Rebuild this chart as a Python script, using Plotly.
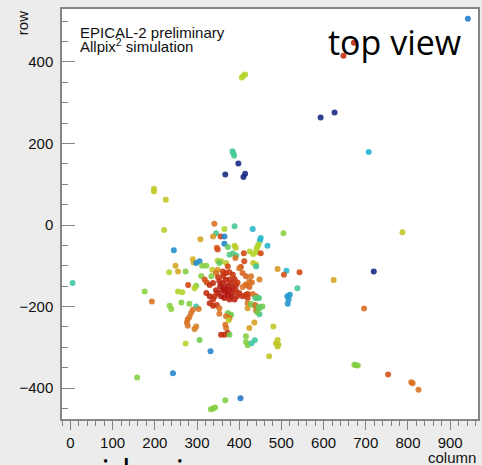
import plotly.graph_objects as go

# Isolated hits away from the shower core: column, row, normalised colour value
outer_col = [942, 672, 647, 406, 410, 414, 593, 626, 384, 386, 388, 398, 367, 410, 414,
             198, 198, 226, 707, 787, 719, 543, 624, 696, 673, 677, 681, 753, 808, 811,
             825, 5, 176, 193, 158, 243, 333, 338, 343, 367, 403]
outer_row = [506, 447, 415, 362, 366, 369, 264, 276, 181, 176, 170, 151, 124, 118, 126,
             82, 89, 62, 179, -18, -114, -116, -135, -205, -343, -344, -345, -367, -386, -388,
             -404, -142, -163, -188, -374, -364, -452, -450, -448, -430, -425]
outer_val = [0.16, 0.97, 0.95, 0.62, 0.62, 0.62, 0.02, 0.02, 0.42, 0.42, 0.42, 0.02, 0.02, 0.02, 0.02,
             0.66, 0.66, 0.66, 0.28, 0.66, 0.02, 0.90, 0.75, 0.83, 0.55, 0.55, 0.55, 0.88, 0.82, 0.82,
             0.82, 0.40, 0.56, 0.82, 0.55, 0.18, 0.55, 0.55, 0.55, 0.55, 0.15]

# Hits in the central shower
core_col = [341, 365, 389, 432, 222, 505, 345, 338, 356, 365, 308, 451, 449, 245, 365,
            373, 347, 349, 389, 392, 446, 443, 441, 467, 425, 433, 441, 451, 377, 385,
            393, 391, 411, 290, 292, 298, 306, 322, 312, 349, 357, 353, 369, 373, 433,
            440, 440, 412, 404, 400, 249, 255, 234, 273, 336, 349, 345, 361, 369, 377,
            408, 416, 491, 512, 506, 310, 334, 318, 323, 330, 338, 353, 361, 365, 373,
            381, 385, 393, 377, 389, 396, 416, 424, 430, 448, 428, 424, 416, 408, 255,
            265, 279, 298, 294, 538, 322, 330, 338, 349, 357, 365, 373, 381, 389, 377,
            400, 408, 416, 420, 432, 440, 444, 455, 436, 448, 420, 330, 338, 347, 353,
            298, 282, 235, 239, 263, 290, 286, 282, 304, 373, 381, 369, 377, 448, 440,
            298, 294, 278, 276, 278, 367, 369, 357, 365, 373, 377, 424, 436, 416, 416,
            420, 429, 437, 481, 487, 491, 493, 491, 471, 332, 273, 306, 514, 520, 517,
            515, 375, 353, 420, 443, 438, 447, 428, 438, 446, 420, 360, 368, 345, 385,
            392, 355, 375, 342, 395, 362, 385, 350, 368]
core_row = [3, -10, -3, -10, -12, -20, -20, -28, -28, -28, -35, -32, -38, -62, -46,
            -54, -56, -60, -51, -56, -48, -53, -59, -51, -65, -71, -67, -69, -73, -70,
            -75, -81, -69, -84, -92, -93, -89, -100, -100, -88, -89, -93, -93, -102, -93,
            -97, -102, -89, -103, -106, -100, -114, -116, -114, -110, -110, -118, -114, -118, -116,
            -118, -126, -108, -112, -122, -125, -126, -134, -141, -147, -142, -138, -143, -155, -149,
            -143, -155, -147, -134, -133, -141, -147, -152, -141, -134, -126, -138, -146, -152, -163,
            -165, -147, -149, -155, -155, -167, -175, -183, -167, -175, -179, -171, -175, -183, -183,
            -167, -175, -171, -179, -169, -175, -179, -200, -198, -204, -192, -192, -198, -196, -204,
            -200, -193, -198, -206, -190, -208, -216, -226, -206, -216, -220, -224, -228, -219, -210,
            -249, -255, -231, -239, -247, -245, -253, -269, -269, -265, -269, -253, -239, -273, -287,
            -295, -290, -283, -249, -290, -298, -294, -282, -322, -310, -291, -282, -175, -171, -183,
            -193, -234, -218, -204, -214, -179, -179, -194, -196, -201, -169, -160, -165, -160, -165,
            -160, -150, -160, -175, -175, -125, -122, -128, -135]
core_val = [0.83, 0.62, 0.42, 0.30, 0.64, 0.56, 0.42, 0.76, 0.90, 0.18, 0.74, 0.30, 0.30, 0.20, 0.18,
            0.50, 0.85, 0.88, 0.64, 0.64, 0.62, 0.62, 0.62, 0.30, 0.62, 0.62, 0.62, 0.90, 0.45, 0.45,
            0.45, 0.82, 0.90, 0.72, 0.72, 0.20, 0.20, 0.55, 0.55, 0.60, 0.60, 0.50, 0.66, 0.90, 0.66,
            0.64, 0.40, 0.90, 0.90, 0.82, 0.74, 0.74, 0.62, 0.55, 0.66, 0.76, 0.83, 0.92, 0.95, 0.92,
            0.85, 0.85, 0.76, 0.30, 0.88, 0.55, 0.55, 0.88, 0.88, 0.95, 0.95, 0.97, 0.97, 1.00, 1.00,
            0.97, 1.00, 0.97, 0.95, 0.95, 0.93, 0.85, 0.85, 0.83, 0.80, 0.82, 0.82, 0.82, 0.82, 0.62,
            0.62, 0.90, 0.55, 0.64, 0.42, 0.95, 0.97, 0.95, 0.97, 1.00, 1.00, 1.00, 1.00, 0.97, 0.97,
            0.95, 0.95, 0.93, 0.93, 0.83, 0.83, 0.48, 0.52, 0.52, 0.50, 0.82, 0.95, 0.95, 0.93, 0.83,
            0.40, 0.55, 0.56, 0.56, 0.55, 0.82, 0.82, 0.82, 0.82, 0.52, 0.52, 0.82, 0.82, 0.42, 0.82,
            0.80, 0.80, 0.82, 0.82, 0.82, 0.82, 0.82, 0.95, 0.95, 0.95, 0.52, 0.75, 0.75, 0.55, 0.55,
            0.55, 0.40, 0.40, 0.66, 0.66, 0.66, 0.66, 0.66, 0.66, 0.18, 0.62, 0.52, 0.22, 0.22, 0.22,
            0.22, 0.64, 0.82, 0.76, 0.52, 0.45, 0.45, 0.52, 0.82, 0.50, 0.92, 1.00, 1.00, 0.97, 0.97,
            0.95, 1.00, 1.00, 0.95, 0.95, 0.95, 0.93, 0.93, 0.97]

# Rainbow palette, dark blue (low) to dark red (high)
palette = [
    [0.00, "#101a78"], [0.15, "#1f74c8"], [0.28, "#22b2d2"], [0.40, "#3cc6a2"],
    [0.52, "#6fcb4a"], [0.62, "#b2d42a"], [0.72, "#d4b021"], [0.82, "#d97222"],
    [0.90, "#d0440f"], [1.00, "#b0120a"],
]

col = outer_col + core_col
row = outer_row + core_row
val = outer_val + core_val

fig = go.Figure(go.Scatter(
    x=col, y=row, mode="markers",
    marker=dict(size=6, color=val, colorscale=palette, cmin=0, cmax=1,
                opacity=0.88, line=dict(width=0)),
    hoverinfo="skip", showlegend=False,
))

tick_font = dict(family="Liberation Sans, Arial, sans-serif", size=15, color="#111111")
frame = "#858585"

fig.update_xaxes(
    range=[-20, 966], tick0=0, dtick=100, ticks="outside", ticklen=9, tickwidth=1,
    tickcolor=frame, showline=True, linecolor=frame, linewidth=1.5, mirror=True,
    showgrid=False, zeroline=False, tickfont=tick_font,
    minor=dict(tick0=0, dtick=20, ticks="outside", ticklen=5, tickcolor=frame, showgrid=False),
)
fig.update_yaxes(
    range=[-476, 530], tick0=0, dtick=200, ticks="inside", ticklen=13, tickwidth=1,
    tickcolor=frame, showline=True, linecolor=frame, linewidth=1.5, mirror=True,
    showgrid=False, zeroline=False, tickfont=tick_font, ticklabelstandoff=4,
    minor=dict(tick0=0, dtick=50, ticks="inside", ticklen=6, tickcolor=frame, showgrid=False),
)

# plot area in pixels: x 62..480, y 9..419
def px(x):
    return (x - 62) / 418

def py(y):
    return (419 - y) / 410

label_font = dict(family="Liberation Sans, Arial, sans-serif", size=15, color="#111111")
note_font = dict(family="Liberation Sans, Arial, sans-serif", size=15, color="#111111")
big_font = dict(family="Open Sans, sans-serif", size=34, color="#000000")

annotations = [
    dict(text="row", x=px(22), y=py(23), textangle=-90, font=label_font,
         xanchor="center", yanchor="middle"),
    dict(text="column", x=px(480), y=py(457), font=label_font,
         xanchor="right", yanchor="middle"),
    dict(text="EPICAL-2 preliminary", x=px(78), y=py(32), font=note_font,
         xanchor="left", yanchor="middle"),
    dict(text="Allpix<sup>2</sup> simulation", x=px(78), y=py(46), font=note_font,
         xanchor="left", yanchor="middle"),
    dict(text="top view", x=px(465), y=py(42), font=big_font,
         xanchor="right", yanchor="middle"),
    dict(text="side view", x=px(83), y=py(471), font=big_font,
         xanchor="left", yanchor="middle"),
]
for a in annotations:
    a.update(xref="paper", yref="paper", showarrow=False)

fig.update_layout(
    width=482, height=465,
    margin=dict(l=62, r=2, t=9, b=46),
    paper_bgcolor="#ececec", plot_bgcolor="#ffffff",
    annotations=annotations,
)

fig.write_html("out.html")
